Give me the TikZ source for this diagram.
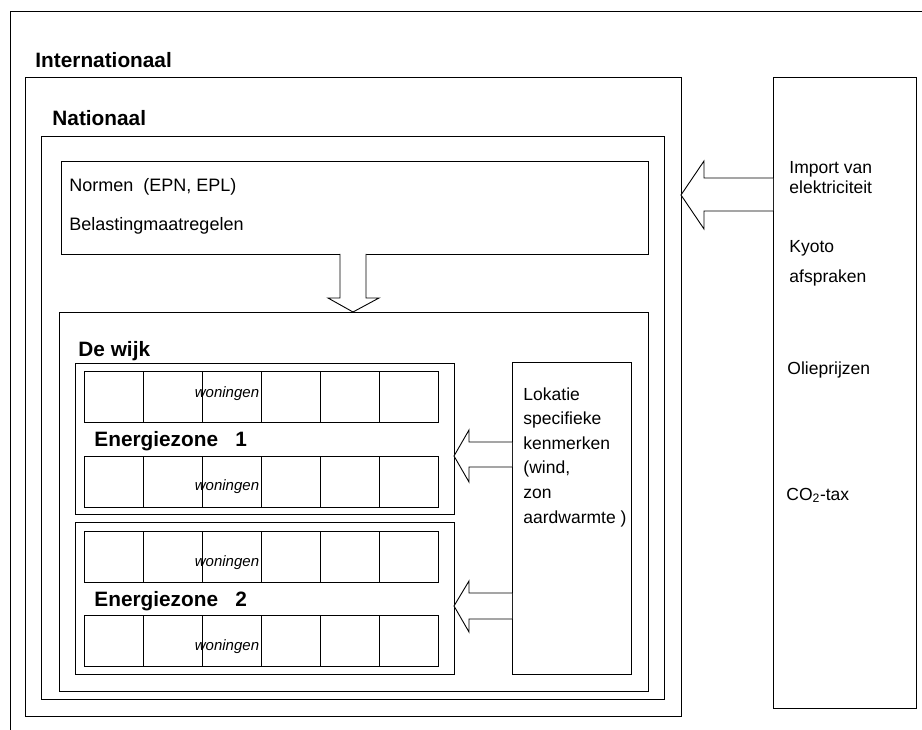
\documentclass[tikz,border=0pt]{standalone}
\usepackage{fontspec}
\setmainfont{Liberation Sans}
\begin{document}
\begin{tikzpicture}[x=1pt,y=-1pt,line width=0.9pt,
  box/.style={draw=black,fill=white,inner sep=0pt,anchor=north west},
  cell/.style={box,minimum width=59pt,minimum height=51pt},
  lbl/.style={inner sep=0pt,anchor=base west,font=\fontsize{17.5}{20}\selectfont},
  lblbig/.style={inner sep=0pt,anchor=base west,font=\fontsize{18}{21}\selectfont},
  boldlbl/.style={inner sep=0pt,anchor=base west,font=\fontsize{20.8}{24}\selectfont\bfseries},
  won/.style={inner sep=0pt,anchor=base,font=\fontsize{15}{18}\selectfont\itshape},
  blockarrow/.style={draw=black,fill=white,line join=miter}]
\useasboundingbox (0,0) rectangle (922,730);
% outer frame (partly visible)
\coordinate (oTR) at (922,11);
\coordinate (oTL) at (10,11);
\coordinate (oBL) at (10,730);
\draw (oTR) -- (oTL) -- (oBL);
% main boxes
\node[box,minimum width=656pt,minimum height=639pt] (intl) at (25,77) {};
\node[box,minimum width=143pt,minimum height=631pt] (rbox) at (773,77) {};
\node[box,minimum width=623pt,minimum height=563pt] (natl) at (41,136) {};
\node[box,minimum width=587pt,minimum height=93pt] (normen) at (61,161) {};
\node[box,minimum width=589pt,minimum height=379pt] (wijk) at (59,312) {};
\node[box,minimum width=379pt,minimum height=151pt] (ez1) at (75,363) {};
\node[box,minimum width=379pt,minimum height=152pt] (ez2) at (75,522) {};
\node[box,minimum width=119pt,minimum height=312pt] (lok) at (512,362) {};
% house rows
\foreach \r/\yy in {a/371,b/456,c/531,d/615}{
  \foreach \i in {0,...,5}{
    \node[cell] (h\r\i) at ({84+59*\i},\yy) {};
  }
}
% block arrows
\filldraw[blockarrow] (773,178) -- (704,178) -- (704,161) -- (681,195) -- (704,229) -- (704,211) -- (773,211);
\filldraw[blockarrow] (340,254) -- (340,298) -- (328,298) -- (353,312) -- (379,298) -- (366,298) -- (366,254);
\filldraw[blockarrow] (512,442) -- (469,442) -- (469,430) -- (454,456) -- (469,482) -- (469,467) -- (512,467);
\filldraw[blockarrow] (512,593) -- (469,593) -- (469,581) -- (454,606) -- (469,632) -- (469,619) -- (512,619);
% labels
\node[boldlbl] (tInt) at (35,68) {Internationaal};
\node[boldlbl] (tNat) at (52,126) {Nationaal};
\node[lblbig] (tNorm) at (69,192) {Normen\ \ (EPN, EPL)};
\node[lblbig] (tBel) at (69,231) {Belastingmaatregelen};
\node[boldlbl] (tWijk) at (78,356) {De wijk};
\node[boldlbl] (tEz1) at (94,446) {Energiezone\ \ \ 1};
\node[boldlbl] (tEz2) at (94,606) {Energiezone\ \ \ 2};
\node[won] (w1) at (227,398) {woningen};
\node[won] (w2) at (227,490) {woningen};
\node[won] (w3) at (227,566) {woningen};
\node[won] (w4) at (227,650) {woningen};
% Lokatie text
\node[lbl] (l1) at (523,400) {Lokatie};
\node[lbl] (l2) at (523,424.6) {specifieke};
\node[lbl] (l3) at (523,449.2) {kenmerken};
\node[lbl] (l4) at (523,473.8) {(wind,};
\node[lbl] (l5) at (523,498.4) {zon};
\node[lbl] (l6) at (523,523) {aardwarmte )};
% right column text
\node[lbl] (r1) at (789,174) {Import van};
\node[lbl] (r2) at (789,194) {elektriciteit};
\node[lbl] (r3) at (789,253) {Kyoto};
\node[lbl] (r4) at (789,283) {afspraken};
\node[lbl] (r5) at (787,374) {Olieprijzen};
\node[lbl] (r6) at (786,500) {CO\textsubscript{2}-tax};
\end{tikzpicture}
\end{document}
